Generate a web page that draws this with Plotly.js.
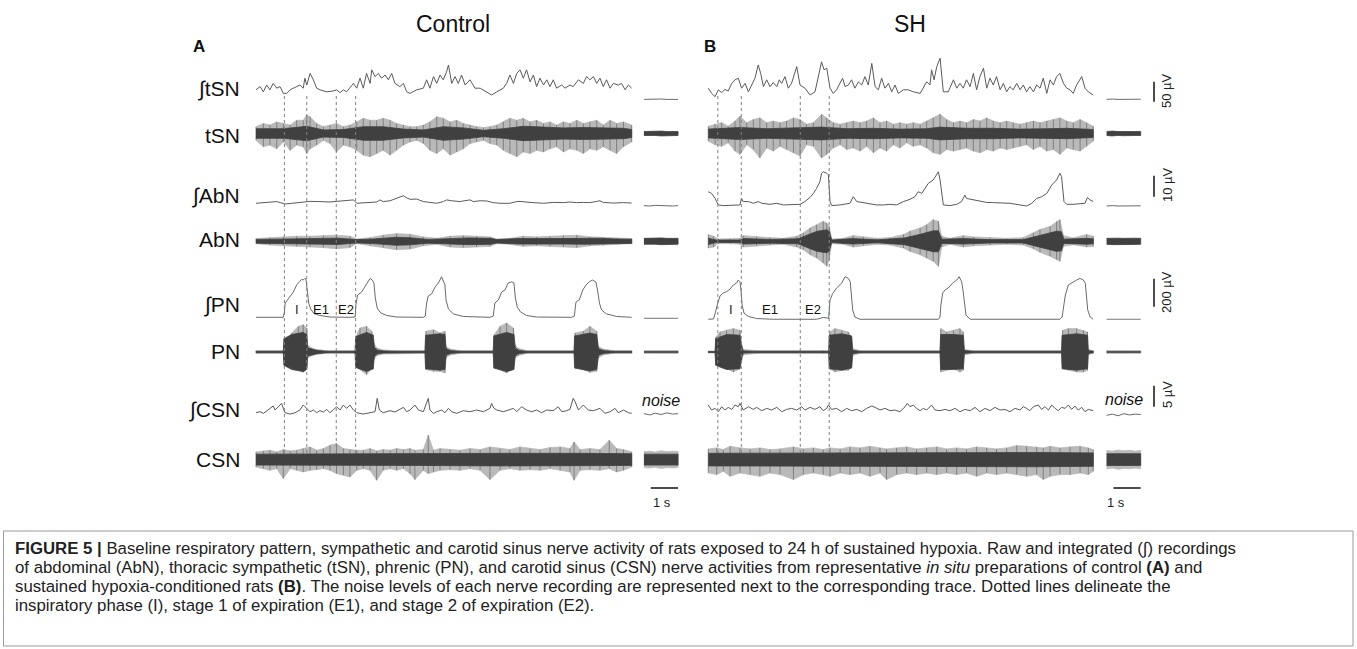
<!DOCTYPE html>
<html>
<head>
<meta charset="utf-8">
<script src="https://cdn.plot.ly/plotly-3.0.1.min.js"></script>
<style>html,body{margin:0;padding:0;background:#fff;}#chart{width:1357px;height:649px;}</style>
</head>
<body>
<div id="chart"></div>
<script>
// ---------------- DATA (time in s, amplitude in µV) ----------------
// Panel A (Control) – integrated tSN
const tItsnA = [0,0.15,0.27,0.39,0.51,0.63,0.76,0.88,1.00,1.12,1.25,1.37,1.49,1.61,1.73,1.79,1.86,1.98,2.10,2.22,2.34,2.59,2.83,2.95,3.08,3.20,3.32,3.44,3.57,3.69,3.81,3.93,4.05,4.18,4.24,4.36,4.48,4.60,4.73,4.85,4.97,5.09,5.27,5.40,5.52,5.64,5.89,6.13,6.25,6.37,6.50,6.62,6.74,6.86,6.98,7.05,7.17,7.29,7.41,7.53,7.66,7.84,8.02,8.21,8.45,8.63,8.82,9.06,9.18,9.30,9.43,9.55,9.67,9.79,9.91,10.04,10.16,10.28,10.40,10.53,10.65,10.77,10.89,11.01,11.20,11.32,11.50,11.62,11.81,11.99,12.11,12.23,12.36,12.48,12.60,12.72,12.84,12.97,13.09,13.27,13.39,13.52,13.64,13.76];
const vItsnA = [18,26,13,30,18,34,22,26,9,9,18,22,26,30,22,47,30,59,43,22,18,13,15,18,11,18,13,22,34,22,47,22,59,34,68,51,59,47,55,43,59,34,26,34,13,9,18,22,43,22,51,34,55,43,63,80,34,51,34,55,30,43,22,22,13,5,13,22,34,55,34,59,68,47,68,38,55,26,47,30,43,26,43,22,30,22,30,26,43,34,51,43,51,34,47,26,43,22,34,30,34,18,30,22];
// Panel B (SH) – integrated tSN
const tItsnB = [0.01,0.13,0.26,0.38,0.50,0.62,0.74,0.87,0.99,1.11,1.23,1.36,1.48,1.60,1.72,1.84,1.93,2.03,2.15,2.27,2.39,2.52,2.61,2.70,2.82,2.94,3.06,3.25,3.37,3.55,3.74,3.92,4.04,4.16,4.25,4.35,4.47,4.59,4.71,4.84,4.93,5.02,5.14,5.26,5.38,5.51,5.63,5.75,5.87,6.00,6.12,6.24,6.36,6.48,6.61,6.73,6.85,6.97,7.16,7.34,7.52,7.77,7.89,8.01,8.13,8.19,8.28,8.38,8.50,8.62,8.80,8.99,9.11,9.23,9.35,9.47,9.60,9.72,9.84,9.96,10.09,10.21,10.33,10.45,10.57,10.70,10.82,10.94,11.06,11.18,11.31,11.43,11.55,11.67,11.79,11.92,12.04,12.16,12.28,12.41,12.53,12.65,12.77,12.89,13.02,13.14,13.26,13.38,13.50,13.63,13.69,13.81,13.93,14.11];
const vItsnB = [22,9,1,18,11,19,15,34,43,47,22,34,13,30,47,80,59,26,43,26,36,26,43,34,51,22,34,76,30,22,5,13,51,88,68,72,22,9,18,34,47,26,30,43,22,38,30,51,30,84,26,18,47,22,34,13,30,9,18,18,13,9,22,38,30,68,43,76,97,13,13,43,22,34,22,43,26,59,18,51,72,22,47,30,51,18,34,13,26,18,34,18,30,13,26,13,30,22,47,9,43,30,51,59,34,22,18,9,30,43,51,22,13,5];

// Raw tSN – spike extent (up/down) and dense core half-width
const tRtsnA = [0,0.27,0.51,0.76,1.00,1.25,1.49,1.73,1.86,1.98,2.22,2.47,2.71,2.95,3.20,3.44,3.69,3.93,4.18,4.42,4.66,4.91,5.15,5.40,5.64,5.89,6.13,6.37,6.62,6.86,7.11,7.35,7.59,7.84,8.08,8.33,8.57,8.82,9.06,9.30,9.55,9.79,10.04,10.28,10.53,10.77,11.01,11.26,11.50,11.75,11.99,12.23,12.48,12.72,12.97,13.21,13.46,13.76];
const upRtsnA = [17,25,21,29,25,21,33,33,46,42,25,17,21,25,17,21,29,38,33,33,38,33,25,21,17,17,21,29,42,38,29,33,25,21,17,15,17,21,29,38,33,38,29,33,25,29,21,29,25,33,25,29,33,21,33,25,29,21];
const dnRtsnA = [-17,-33,-29,-38,-21,-42,-29,-33,-50,-38,-29,-17,-25,-46,-29,-33,-42,-54,-58,-50,-42,-54,-42,-29,-21,-17,-25,-42,-50,-38,-54,-46,-38,-25,-21,-17,-25,-29,-42,-50,-58,-46,-50,-42,-46,-38,-33,-46,-38,-42,-50,-38,-42,-33,-42,-50,-33,-21];
const tCtsnA = [0,1.00,1.86,2.47,3.20,3.93,4.66,5.40,6.13,6.86,7.59,8.33,9.06,9.79,10.53,11.26,11.99,12.72,13.46,13.76];
const cRtsnA = [12,12,18,9,10,17,17,11,9,17,14,8,12,18,16,14,15,14,13,10];
const tRtsnB = [0.01,0.26,0.50,0.74,0.99,1.17,1.42,1.66,1.90,2.15,2.39,2.64,2.88,3.13,3.37,3.61,3.86,4.16,4.35,4.59,4.84,5.08,5.32,5.57,5.81,6.06,6.30,6.54,6.79,7.03,7.28,7.52,7.77,8.01,8.25,8.50,8.74,8.99,9.23,9.47,9.72,9.96,10.21,10.45,10.70,10.94,11.18,11.43,11.67,11.92,12.16,12.41,12.65,12.89,13.14,13.38,13.63,13.87,14.11];
const upRtsnB = [18,23,27,18,31,43,27,35,39,27,31,27,31,39,35,23,27,48,39,27,23,27,31,27,31,39,27,31,23,27,23,27,23,31,39,48,35,27,31,27,35,31,39,31,27,31,27,23,27,31,27,31,35,39,31,27,35,27,18];
const dnRtsnB = [-19,-28,-32,-23,-44,-52,-28,-40,-61,-36,-44,-32,-40,-48,-56,-28,-32,-61,-52,-36,-28,-40,-36,-44,-32,-48,-36,-44,-28,-36,-23,-32,-28,-36,-48,-52,-40,-44,-40,-36,-44,-48,-40,-44,-36,-40,-36,-32,-28,-40,-32,-44,-40,-52,-36,-40,-44,-32,-19];
const tCtsnB = [0.01,1.17,2.15,3.13,4.16,5.08,6.06,7.03,8.01,8.50,9.47,10.45,11.43,12.41,13.14,14.11];
const cRtsnB = [11,15,12,14,16,12,13,11,12,16,13,13,11,12,13,10];

// Integrated AbN
const tIabnA = [0,0.51,0.76,1.06,1.37,1.73,1.98,2.34,2.71,2.95,3.32,3.57,3.69,3.93,4.18,4.42,4.54,4.66,4.91,5.15,5.40,5.52,5.64,5.89,6.13,6.37,6.62,6.86,6.98,7.17,7.47,7.59,7.84,7.96,8.21,8.45,8.69,8.94,9.30,9.55,9.67,10.04,10.28,10.53,10.89,11.26,11.50,11.75,11.99,12.23,12.48,12.60,12.72,13.09,13.46,13.76];
const vIabnA = [1.3,1.7,2.1,0.95,1.3,1.7,2.2,2.1,1.9,2.2,2.5,2.9,1.3,1.6,1.7,1.9,2.9,2.1,2.5,3.6,4.9,3.9,3.2,3.3,2.1,1.7,1.3,2.1,2.9,2.5,2.1,2.4,2.9,2.1,2.5,2.4,1.6,1.3,1.3,2.1,2.2,1.7,1.6,1.3,1.7,1.6,1.9,1.6,1.7,1.6,2.2,2.5,1.7,1.4,1.6,1.4];
const tIabnB = [0.01,0.13,0.26,0.38,0.56,0.81,1.17,1.23,1.29,1.48,1.66,1.84,1.97,2.27,2.52,2.76,3.00,3.25,3.37,3.55,3.74,3.86,3.98,4.10,4.16,4.22,4.35,4.41,4.47,4.53,4.84,5.20,5.32,5.45,5.69,5.93,6.18,6.42,6.67,6.91,7.16,7.40,7.58,7.70,7.83,7.95,8.07,8.25,8.38,8.44,8.50,8.62,8.86,9.11,9.29,9.41,9.47,9.72,9.96,10.21,10.45,10.70,11.06,11.43,11.67,11.86,12.04,12.22,12.41,12.59,12.77,12.89,12.95,13.04,13.14,13.38,13.63,13.81,13.90,13.99,14.11];
const vIabnB = [6.8,6.0,3.6,0.5,0.2,0.2,0.5,3.6,2.1,2.1,1.3,2.1,1.3,0.8,1.3,0.5,0.5,0.5,0.8,2.1,4.1,6.0,8.4,11.6,15.6,16.3,15.6,14.8,2.1,0.2,0.5,1.3,4.4,2.1,1.6,1.0,0.5,0.5,0.8,0.5,2.1,3.2,4.4,6.8,6.0,8.4,10.8,12.4,14.8,16.3,12.4,0.5,0.2,0.8,2.1,5.2,3.6,2.9,2.1,1.7,1.6,1.6,1.3,0.5,0,1.3,3.6,4.4,6.0,10.0,12.4,15.6,14.0,2.1,0.8,0.8,1.0,1.3,4.1,2.9,2.1];

// Raw AbN
const tRabnA = [0,0.51,1.00,1.49,1.98,2.47,2.95,3.44,3.69,4.18,4.66,5.15,5.64,6.13,6.62,7.11,7.59,8.08,8.57,8.82,9.30,9.79,10.28,10.77,11.26,11.75,12.23,12.72,13.21,13.76];
const upRabnA = [1.3,1.75,2.1,2.4,2.4,2.7,2.9,2.4,1.1,1.75,2.9,3.65,3.3,2.1,1.4,2.4,2.7,2.4,2.1,1.1,1.4,2.4,2.1,2.4,2.7,2.9,2.1,1.75,1.4,1.3];
const dnRabnA = [-1.1,-1.75,-2.1,-2.4,-2.7,-3.0,-3.5,-3.0,-1.1,-2.1,-3.0,-4.0,-3.65,-2.1,-1.4,-2.7,-3.0,-2.7,-2.4,-1.1,-1.4,-2.4,-2.1,-2.4,-2.7,-3.0,-2.1,-1.9,-1.4,-1.1];
const tCabnA = [0,1.0,2.0,3.0,3.69,4.3,5.15,5.64,6.3,7.1,7.8,8.6,8.82,9.6,10.5,11.3,12.0,12.6,13.2,13.76];
const cRabnA = [0.9,1.1,1.4,1.5,0.8,1.1,1.9,1.7,0.9,1.4,1.6,1.4,0.8,1.3,1.2,1.3,1.4,1.5,1.1,1.0];
const tRabnB = [0.01,0.20,0.38,0.81,1.17,1.29,1.78,2.27,2.76,3.25,3.49,3.74,3.98,4.22,4.35,4.44,4.53,4.96,5.32,5.69,6.18,6.67,7.16,7.40,7.77,8.01,8.25,8.44,8.56,8.86,9.35,9.72,10.33,10.94,11.55,11.92,12.16,12.53,12.77,12.89,13.02,13.38,13.87,14.11];
const upRabnB = [3.2,2.4,1.1,1.1,1.4,2.7,2.1,1.75,1.4,2.4,4.0,6.35,7.9,9.5,8.7,7.1,1.1,1.4,2.7,2.1,1.4,1.75,3.2,4.8,6.35,7.9,10.3,9.5,2.4,1.4,2.7,2.1,1.75,1.4,1.75,4.0,5.6,7.1,9.5,10.3,2.7,1.6,3.2,2.4];
const dnRabnB = [-3.2,-2.7,-1.1,-1.1,-1.4,-2.7,-2.1,-1.75,-1.4,-2.7,-4.0,-6.35,-7.9,-10.3,-11.9,-8.7,-1.1,-1.4,-2.7,-2.1,-1.4,-1.75,-3.2,-4.8,-6.35,-7.9,-9.5,-11.9,-2.7,-1.4,-2.7,-2.1,-1.75,-1.4,-1.75,-3.5,-5.2,-7.1,-8.7,-9.5,-2.4,-1.6,-2.7,-2.4];
const tCabnB = [0.01,0.3,1.2,1.3,2.3,3.3,3.74,4.0,4.35,4.45,4.53,5.3,6.2,7.2,7.77,8.25,8.44,8.56,9.35,10.3,11.55,12.16,12.77,12.95,13.02,13.87,14.11];
const cRabnB = [1.5,0.6,0.6,1.3,0.9,1.2,3.5,4.8,5.5,4.5,0.6,1.3,0.7,1.6,3.3,5.0,5.0,1.0,1.3,0.8,0.8,2.8,4.8,4.5,1.0,1.4,1.2];

// Integrated PN
const tIpnA = [0,1.00,1.04,1.07,1.18,1.37,1.49,1.61,1.67,1.73,1.79,1.83,1.88,1.93,2.00,2.12,2.34,2.71,3.44,3.63,3.66,3.72,3.87,3.99,4.11,4.18,4.26,4.32,4.37,4.44,4.57,4.79,5.15,6.13,6.20,6.25,6.31,6.43,6.56,6.68,6.80,6.86,6.92,6.96,7.05,7.23,7.59,8.57,8.69,8.75,8.88,9.00,9.12,9.24,9.37,9.45,9.50,9.57,9.69,9.91,10.28,11.56,11.66,11.72,11.84,11.97,12.09,12.21,12.33,12.45,12.51,12.58,12.66,12.84,13.21,13.76];
const vIpnA = [5,5,43,107,136,186,236,264,276,271,283,278,186,107,64,32,18,7,5,7,93,164,186,221,264,283,271,250,143,71,36,18,7,5,14,107,157,171,221,250,295,271,236,129,64,29,11,5,14,107,129,186,200,250,259,250,143,79,43,18,7,5,14,114,129,200,236,259,271,257,200,107,57,29,11,5];
const tIpnB = [0.01,0.20,0.27,0.32,0.44,0.56,0.68,0.81,0.93,1.05,1.11,1.17,1.21,1.25,1.32,1.48,1.78,2.39,3.98,4.22,4.37,4.42,4.47,4.57,4.71,4.90,5.02,5.14,5.21,5.25,5.30,5.38,5.57,8.44,8.50,8.53,8.60,8.68,8.80,8.96,9.11,9.20,9.29,9.34,9.39,9.45,9.60,12.89,12.97,13.02,13.09,13.20,13.38,13.50,13.63,13.75,13.82,13.86,13.91,14.00,14.11];
const vIpnB = [-9,-7,36,81,157,179,188,207,236,250,271,259,200,93,34,11,-4,-9,-9,4,0,-4,129,176,214,250,295,283,259,164,57,7,-9,-9,7,93,179,200,214,250,271,295,259,200,107,21,-9,-9,7,81,164,236,259,271,283,271,248,164,57,7,-9];

// Raw PN
const tRpnA = [0,1.00,1.03,1.12,1.31,1.55,1.73,1.86,1.89,2.04,2.22,2.59,3.63,3.66,3.81,4.05,4.24,4.32,4.42,4.66,5.15,6.19,6.23,6.50,6.74,6.92,6.96,7.11,7.47,8.69,8.73,8.94,9.18,9.43,9.49,9.61,9.91,11.65,11.69,11.99,12.23,12.48,12.54,12.72,13.09,13.76];
const upRpnA = [10,10,52,88,136,183,195,171,52,29,17,10,10,112,171,183,148,64,29,14,10,10,148,159,136,148,40,21,10,10,124,183,207,171,52,26,10,10,136,148,183,148,40,21,10,10];
const dnRpnA = [-10,-10,-55,-90,-114,-126,-145,-114,-43,-26,-17,-10,-10,-90,-126,-162,-114,-55,-26,-14,-10,-10,-126,-138,-138,-150,-43,-21,-10,-10,-102,-126,-150,-114,-43,-26,-10,-10,-102,-126,-145,-138,-43,-21,-10,-10];
const tCpnA = [0,1.00,1.02,1.31,1.73,1.86,1.89,2.22,2.59,3.63,3.65,4.05,4.30,4.33,4.42,4.66,5.15,6.19,6.21,6.74,6.92,6.96,7.11,7.47,8.69,8.71,9.18,9.45,9.49,9.61,9.91,11.65,11.67,12.23,12.48,12.54,12.72,13.09,13.76];
const cRpnA = [5,5,95,125,140,125,30,12,5,5,110,140,120,35,15,8,5,5,120,130,125,25,10,5,5,115,140,125,30,12,5,5,115,135,125,25,10,5,5];
const tRpnB = [0.01,0.26,0.29,0.44,0.68,0.93,1.17,1.23,1.29,1.78,4.22,4.42,4.46,4.65,4.90,5.14,5.26,5.30,5.57,8.50,8.53,8.74,8.99,9.23,9.35,9.39,9.72,12.95,12.99,13.20,13.50,13.75,13.90,13.93,14.11];
const upRpnB = [7,7,107,143,155,167,155,60,17,10,10,10,143,167,155,143,107,24,10,10,167,143,155,167,143,17,10,10,155,167,167,155,143,17,10];
const dnRpnB = [-7,-7,-71,-107,-119,-143,-119,-60,-19,-10,-10,-10,-119,-143,-131,-131,-107,-24,-10,-10,-143,-131,-119,-143,-131,-19,-10,-10,-119,-131,-143,-143,-131,-19,-10];
const tCpnB = [0.01,0.26,0.28,0.68,1.17,1.23,1.29,1.78,4.42,4.44,4.90,5.26,5.30,5.57,8.50,8.52,8.99,9.35,9.39,9.72,12.95,12.97,13.50,13.90,13.93,14.11];
const cRpnB = [4,4,95,125,120,45,8,5,5,120,130,115,12,5,5,125,125,120,10,5,5,120,130,120,10,5];

// Integrated CSN
const tIcsnA = [0,0.15,0.27,0.39,0.51,0.63,0.70,0.82,0.94,1.00,1.06,1.25,1.43,1.61,1.73,1.79,1.86,1.98,2.10,2.22,2.34,2.47,2.59,2.71,2.83,2.95,3.08,3.20,3.32,3.44,3.57,3.69,3.93,4.18,4.36,4.44,4.52,4.66,4.91,5.09,5.27,5.40,5.52,5.64,5.82,5.95,6.13,6.25,6.31,6.37,6.50,6.62,6.80,6.92,7.05,7.17,7.35,7.59,7.84,8.08,8.33,8.57,8.63,8.72,8.82,9.06,9.30,9.43,9.55,9.73,9.91,10.10,10.28,10.46,10.65,10.89,11.07,11.20,11.38,11.50,11.62,11.69,11.81,11.99,12.17,12.36,12.60,12.78,12.97,13.15,13.27,13.46,13.64,13.76];
const vIcsnA = [-0.17,0.07,-0.33,0.31,0.86,1.42,0.47,1.26,2.05,0.86,-0.17,-0.49,-0.17,0.47,1.66,1.26,0.86,0.07,0.47,-0.17,0.31,-0.01,0.62,-0.17,0.47,1.26,0.47,1.66,0.86,1.66,0.47,-0.17,-0.49,-0.17,0.07,3.25,0.47,-0.17,0.31,-0.01,0.62,1.10,0.07,0.47,1.66,0.47,0.07,2.05,3.25,0.47,-0.33,0.07,0.47,-0.17,0.86,0.07,-0.33,0.31,0.07,0.47,0.07,0.86,2.05,0.86,0.47,0.07,0.47,0.86,0.07,1.26,0.47,0.07,0.47,-0.17,0.47,0.31,1.26,0.07,0.31,0.62,3.25,2.45,0.47,1.66,0.47,0.31,0.86,-0.33,0.07,0.86,-0.17,0.47,-0.17,-0.33];
const tIcsnB = [0.01,0.13,0.26,0.38,0.50,0.62,0.74,0.87,0.99,1.11,1.17,1.29,1.48,1.66,1.78,1.97,2.15,2.33,2.52,2.70,2.88,3.06,3.25,3.43,3.55,3.74,3.92,4.10,4.22,4.35,4.41,4.53,4.71,4.90,5.08,5.26,5.45,5.63,5.81,6.00,6.12,6.30,6.48,6.67,6.85,7.03,7.22,7.30,7.40,7.52,7.64,7.77,7.89,8.01,8.19,8.32,8.50,8.68,8.86,9.05,9.23,9.41,9.60,9.78,9.96,10.15,10.33,10.51,10.70,10.88,11.06,11.25,11.43,11.55,11.67,11.79,11.92,12.10,12.22,12.34,12.47,12.59,12.71,12.83,12.95,13.08,13.20,13.32,13.44,13.56,13.69,13.81,13.93,14.11];
const vIcsnB = [1.66,0.47,0.86,0.07,1.26,0.47,1.10,0.62,1.66,1.26,2.05,0.47,1.26,0.62,1.10,0.31,0.86,0.47,1.10,0.07,0.62,0.86,0.47,1.26,0.47,1.10,0.62,1.26,0.31,0.86,1.66,0.62,0.86,0.07,0.86,0.31,0.62,0.07,0.86,1.42,1.10,0.47,0.86,0.31,0.47,0.07,1.26,2.05,1.26,1.66,0.86,0.31,0.86,0.47,1.66,0.47,0.31,0.62,0.31,0.86,0.07,0.62,0.31,1.10,0.07,0.86,0.31,1.10,0.47,0.62,0.07,0.86,0.47,1.26,0.86,0.31,1.26,1.66,0.62,1.26,0.47,1.66,0.86,0.31,1.10,0.86,1.66,0.62,1.42,0.47,1.10,0.07,0.62,0.31];

// Raw CSN
const tRcsnA = [0,0.27,0.51,0.76,1.00,1.25,1.49,1.73,1.98,2.22,2.47,2.71,2.95,3.20,3.44,3.69,3.93,4.18,4.42,4.66,4.91,5.15,5.40,5.64,5.82,6.13,6.31,6.50,6.74,7.11,7.47,7.84,8.21,8.57,8.94,9.30,9.67,10.04,10.40,10.77,11.14,11.50,11.65,11.87,12.23,12.60,12.94,13.21,13.46,13.76];
const upRcsnA = [1.83,2.06,2.22,1.83,2.38,2.06,2.22,2.62,3.02,2.22,2.62,3.41,3.81,2.62,2.38,2.22,2.22,2.62,2.06,2.38,2.22,2.62,2.38,2.62,2.22,2.38,5.79,2.22,2.62,2.38,2.22,2.62,2.38,3.02,2.62,2.38,3.02,2.62,2.38,2.86,3.02,2.62,4.21,2.38,2.62,2.38,4.6,2.62,2.38,1.83];
const dnRcsnA = [-1.75,-2.14,-2.54,-2.14,-4.52,-2.14,-2.54,-2.94,-2.54,-2.38,-2.14,-2.54,-3.33,-3.73,-4.13,-2.54,-2.14,-2.54,-4.92,-2.54,-2.14,-2.54,-2.14,-3.33,-4.76,-2.54,-3.33,-2.94,-2.54,-2.38,-2.54,-2.14,-2.54,-4.76,-2.54,-2.14,-2.54,-2.38,-2.54,-2.14,-2.54,-2.94,-4.92,-2.54,-2.38,-2.54,-2.14,-2.94,-2.54,-1.75];
const tCcsnA = [0,3,6,9,12,13.76];
const cRcsnA = [1.3,1.4,1.4,1.5,1.5,1.4];
const tRcsnB = [0.01,0.32,0.56,0.81,1.17,1.54,1.90,2.27,2.64,3.13,3.49,3.86,4.22,4.47,4.84,5.20,5.57,5.93,6.30,6.54,6.91,7.28,7.64,8.01,8.38,8.74,9.11,9.47,9.84,10.21,10.57,10.94,11.31,11.67,12.04,12.28,12.53,12.89,13.26,13.63,13.93,14.11];
const upRcsnB = [2.54,2.78,2.38,3.17,2.78,2.54,2.78,2.38,2.54,3.02,2.54,2.78,2.38,2.78,2.54,3.02,2.78,3.17,2.78,2.54,2.78,3.02,2.54,2.78,3.02,2.54,2.78,2.54,3.02,2.78,2.54,2.78,3.33,3.17,3.02,2.78,3.17,2.78,3.02,3.17,2.78,2.38];
const dnRcsnB = [-3.17,-3.57,-2.78,-3.97,-3.17,-3.57,-3.97,-3.17,-3.57,-4.76,-3.57,-3.17,-3.57,-3.97,-3.17,-3.57,-3.17,-3.97,-3.17,-4.76,-3.57,-3.17,-3.57,-3.17,-3.57,-3.17,-3.57,-3.17,-3.97,-3.17,-3.57,-3.17,-3.57,-3.97,-3.57,-4.76,-3.97,-3.57,-3.57,-3.17,-3.57,-2.78];
const tCcsnB = [0.01,4,8,12,14.11];
const cRcsnB = [1.5,1.6,1.6,1.7,1.6];

// Noise recordings (shown to the right of each trace)
const tNoiseA = [14.21,14.42,14.63,14.84,15.05,15.26,15.46];
const tNoiseB = [14.60,14.81,15.02,15.23,15.44,15.65,15.85];
const nItsnA = [-6,-5.5,-6,-5,-6,-5.5,-6];
const nItsnB = [-6,-5,-6,-5.5,-5,-6,-5.5];
const nRtsnA = [5,5.5,5,6,5,5.5,5];
const nRtsnB = [5,6,5,5.5,6,5,5];
const nIabnA = [0.2,0,0.3,0.1,0.2,0,0.2];
const nIabnB = [0,0.2,0,0.1,0.2,0,0.1];
const nRabnA = [1.4,1.5,1.4,1.6,1.4,1.5,1.4];
const nRabnB = [1.4,1.6,1.5,1.4,1.6,1.5,1.4];
const nIpnA = [-2,-2,-2,-2,-2,-2,-2];
const nIpnB = [-9,-9,-9,-9,-9,-9,-9];
const nRpnA = [7,7,8,7,7,8,7];
const nRpnB = [7,8,7,7,8,7,7];
const nIcsnA = [-0.4,-0.7,-0.3,-0.6,-0.2,-0.5,-0.4];
const nIcsnB = [-0.8,-0.5,-0.9,-0.4,-0.7,-0.5,-0.6];
const nRcsnA = [1.9,2.0,1.8,2.1,1.9,2.0,1.9];
const nRcsnB = [2.2,2.0,2.3,2.1,2.2,2.0,2.2];
const nCcsnA = [1.3,1.3,1.3,1.3,1.3,1.3,1.3];
const nCcsnB = [1.4,1.4,1.4,1.4,1.4,1.4,1.4];

// Phase boundaries (s): I start, I end / E1 start, E2 start, next I
const phaseA = [1.04, 1.86, 2.94, 3.65];
const phaseB = [0.36, 1.22, 3.38, 4.44];

// Scale bars (µV) and labels
const scaleLabels = ['50 µV','10 µV','200 µV','5 µV'];
const scaleValues = [50, 10, 200, 5];
const rowLabels = ['∫tSN','tSN','∫AbN','AbN','∫PN','PN','∫CSN','CSN'];

// ---------------- LAYOUT GEOMETRY ----------------
const W = 1357, H = 649;
const PXS = 27.3;               // px per second
const x0A = 256, x0B = 708;     // px of t = 0 in each panel
const splitPx = 692;
const rows = [
  {base: 97,    s: 0.4},   // ∫tSN
  {base: 133.5, s: 0.4},   // tSN
  {base: 206,   s: 2.1},   // ∫AbN
  {base: 241.3, s: 2.1},   // AbN
  {base: 318,   s: 0.14},  // ∫PN
  {base: 352,   s: 0.14},  // PN
  {base: 412,   s: 4.2},   // ∫CSN
  {base: 459.6, s: 4.2}    // CSN
];
const px = v => v / W, py = v => 1 - v / H;

const hidden = {visible:false, showgrid:false, zeroline:false, fixedrange:true};
const layout = {
  width: W, height: H, margin: {l:0, r:0, t:0, b:0},
  paper_bgcolor: '#fff', plot_bgcolor: 'rgba(0,0,0,0)', showlegend: false,
  font: {family: 'Liberation Sans, Arial, sans-serif', color: '#111'},
  xaxis: Object.assign({}, hidden, {domain: [0, splitPx / W], range: [-x0A / PXS, (splitPx - x0A) / PXS], anchor: 'y'}),
  xaxis2: Object.assign({}, hidden, {domain: [splitPx / W, 1], range: [(splitPx - x0B) / PXS, (W - x0B) / PXS], anchor: 'y'}),
  shapes: [], annotations: []
};
rows.forEach((r, i) => {
  const key = i === 0 ? 'yaxis' : 'yaxis' + (i + 1);
  const ax = Object.assign({}, hidden, {domain: [0, 1], range: [(r.base - H) / r.s, r.base / r.s], anchor: 'x'});
  if (i > 0) ax.overlaying = 'y';
  layout[key] = ax;
});
const yid = i => i === 0 ? 'y' : 'y' + (i + 1);

const data = [];
const INT_COLOR = '#5a5a5a', HALO_COLOR = '#b9b9b9', SPIKE_COLOR = '#808080', CORE_COLOR = '#404040';
function line(t, v, xa, row, color, w) {
  data.push({type:'scatter', mode:'lines', x:t, y:v, xaxis:xa, yaxis:yid(row), line:{color:color||INT_COLOR, width:w||1}, hoverinfo:'skip'});
}
function band(t, up, dn, xa, row, color) {
  const x = t.concat(t.slice().reverse());
  const y = up.concat(dn.slice().reverse());
  data.push({type:'scatter', mode:'lines', x:x, y:y, fill:'toself', fillcolor:color, xaxis:xa, yaxis:yid(row), line:{color:color, width:0.8}, hoverinfo:'skip'});
}
// spikes: vertical excursions of the raw signal drawn as error bars about the baseline
function spikes(t, up, dn, xa, row, color) {
  data.push({type:'scatter', mode:'markers', x:t, y:t.map(() => 0), xaxis:xa, yaxis:yid(row),
    marker:{size:1, opacity:0}, hoverinfo:'skip',
    error_y:{type:'data', symmetric:false, array:up, arrayminus:dn.map(v => -v), width:0, thickness:1, color:color||SPIKE_COLOR}});
}
const neg = a => a.map(v => -v);

function raw(t, up, dn, tc, c, xa, row) {
  band(t, up, dn, xa, row, HALO_COLOR);
  spikes(t, up, dn, xa, row);
  band(tc, c, neg(c), xa, row, CORE_COLOR);
}
// Panel A
line(tItsnA, vItsnA, 'x', 0);
raw(tRtsnA, upRtsnA, dnRtsnA, tCtsnA, cRtsnA, 'x', 1);
line(tIabnA, vIabnA, 'x', 2);
raw(tRabnA, upRabnA, dnRabnA, tCabnA, cRabnA, 'x', 3);
line(tIpnA, vIpnA, 'x', 4, '#6a6a6a');
raw(tRpnA, upRpnA, dnRpnA, tCpnA, cRpnA, 'x', 5);
line(tIcsnA, vIcsnA, 'x', 6);
raw(tRcsnA, upRcsnA, dnRcsnA, tCcsnA, cRcsnA, 'x', 7);
// Panel B
line(tItsnB, vItsnB, 'x2', 0);
raw(tRtsnB, upRtsnB, dnRtsnB, tCtsnB, cRtsnB, 'x2', 1);
line(tIabnB, vIabnB, 'x2', 2);
raw(tRabnB, upRabnB, dnRabnB, tCabnB, cRabnB, 'x2', 3);
line(tIpnB, vIpnB, 'x2', 4, '#6a6a6a');
raw(tRpnB, upRpnB, dnRpnB, tCpnB, cRpnB, 'x2', 5);
line(tIcsnB, vIcsnB, 'x2', 6);
raw(tRcsnB, upRcsnB, dnRcsnB, tCcsnB, cRcsnB, 'x2', 7);
// Noise segments
[['x', tNoiseA, nItsnA, nRtsnA, nIabnA, nRabnA, nIpnA, nRpnA, nIcsnA, nRcsnA, nCcsnA],
 ['x2', tNoiseB, nItsnB, nRtsnB, nIabnB, nRabnB, nIpnB, nRpnB, nIcsnB, nRcsnB, nCcsnB]].forEach(s => {
  const [xa, t, it, rt, ia, ra, ip, rp, ic, rc, cc] = s;
  line(t, it, xa, 0, '#6a6a6a');
  band(t, rt, neg(rt), xa, 1, CORE_COLOR);
  line(t, ia, xa, 2, '#6a6a6a');
  band(t, ra, neg(ra), xa, 3, CORE_COLOR);
  line(t, ip, xa, 4, '#777');
  band(t, rp, neg(rp), xa, 5, '#555');
  line(t, ic, xa, 6, '#6a6a6a');
  band(t, rc, neg(rc), xa, 7, HALO_COLOR);
  band(t, cc, neg(cc), xa, 7, CORE_COLOR);
});

// Dotted phase lines
[['x', phaseA], ['x2', phaseB]].forEach(([xa, arr]) => {
  arr.forEach(t => layout.shapes.push({type:'line', xref:xa, yref:'paper', x0:t, x1:t, y0:py(453), y1:py(95), line:{color:'#808080', width:1, dash:'dot'}}));
});

// Vertical amplitude scale bars (panel B right side), anchored on the integrated rows
const barT = (1154 - x0B) / PXS;
const barStarts = [-12, 4.4, 80, 1.25];
const barRows = [0, 2, 4, 6];
const barLabelY = [91, 185, 292, 395];
barRows.forEach((r, k) => {
  layout.shapes.push({type:'line', xref:'x2', yref:yid(r), x0:barT, x1:barT, y0:barStarts[k], y1:barStarts[k] + scaleValues[k], line:{color:'#111', width:1.5}});
  layout.annotations.push({text:scaleLabels[k], xref:'paper', yref:'paper', x:px(1167), y:py(barLabelY[k]), textangle:-90, showarrow:false, font:{size:13, color:'#222'}, xanchor:'center', yanchor:'middle'});
});
// Time scale bars
[['x', 14.46, 662], ['x2', 14.85, 1127]].forEach(([xa, t0, lx]) => {
  layout.shapes.push({type:'line', xref:xa, yref:'paper', x0:t0, x1:t0 + 1, y0:py(488), y1:py(488), line:{color:'#111', width:1.5}});
  layout.annotations.push({text:'1 s', xref:'paper', yref:'paper', x:px(lx), y:py(502), showarrow:false, font:{size:13, color:'#222'}, yanchor:'middle'});
});

// Text
function ann(text, x, y, o) {
  layout.annotations.push(Object.assign({text:text, xref:'paper', yref:'paper', x:px(x), y:py(y), showarrow:false, xanchor:'center', yanchor:'middle', font:{size:13, color:'#111'}}, o || {}));
}
const rowLabelY = [89, 135, 196, 239, 305, 351, 410, 459];
rowLabels.forEach((lb, i) => ann(lb, 242, rowLabelY[i], {xanchor:'right', font:{size:21, color:'#111'}}));
ann('<b>A</b>', 199, 46, {font:{size:17, color:'#111'}});
ann('<b>B</b>', 710, 46, {font:{size:17, color:'#111'}});
ann('Control', 453, 24, {font:{size:23, color:'#111'}});
ann('SH', 910, 24, {font:{size:23, color:'#111'}});
ann('I', 297, 310, {font:{size:13, color:'#222'}}); ann('E1', 321, 310); ann('E2', 346, 310);
ann('I', 731, 309, {font:{size:13, color:'#222'}}); ann('E1', 770, 309); ann('E2', 813, 309);
ann('<i>noise</i>', 661, 400, {font:{size:16, color:'#111'}});
ann('<i>noise</i>', 1124, 399, {font:{size:16, color:'#111'}});

// Caption box and caption
layout.shapes.push({type:'rect', xref:'paper', yref:'paper', x0:px(3.5), x1:px(1353), y0:py(646), y1:py(531), line:{color:'#9a9a9a', width:1}});
const capLines = [
  '<b>FIGURE 5 |</b> Baseline respiratory pattern, sympathetic and carotid sinus nerve activity of rats exposed to 24 h of sustained hypoxia. Raw and integrated (<i>∫</i>) recordings',
  'of abdominal (AbN), thoracic sympathetic (tSN), phrenic (PN), and carotid sinus (CSN) nerve activities from representative <i>in situ</i> preparations of control <b>(A)</b> and',
  'sustained hypoxia-conditioned rats <b>(B)</b>. The noise levels of each nerve recording are represented next to the corresponding trace. Dotted lines delineate the',
  'inspiratory phase (I), stage 1 of expiration (E1), and stage 2 of expiration (E2).'
];
const capY = [548, 567, 586, 605];
capLines.forEach((t, i) => ann(t, 13, capY[i], {xanchor:'left', font:{size:16.8, color:'#222'}}));

Plotly.newPlot('chart', data, layout, {staticPlot:true, displayModeBar:false});
</script>
</body>
</html>
